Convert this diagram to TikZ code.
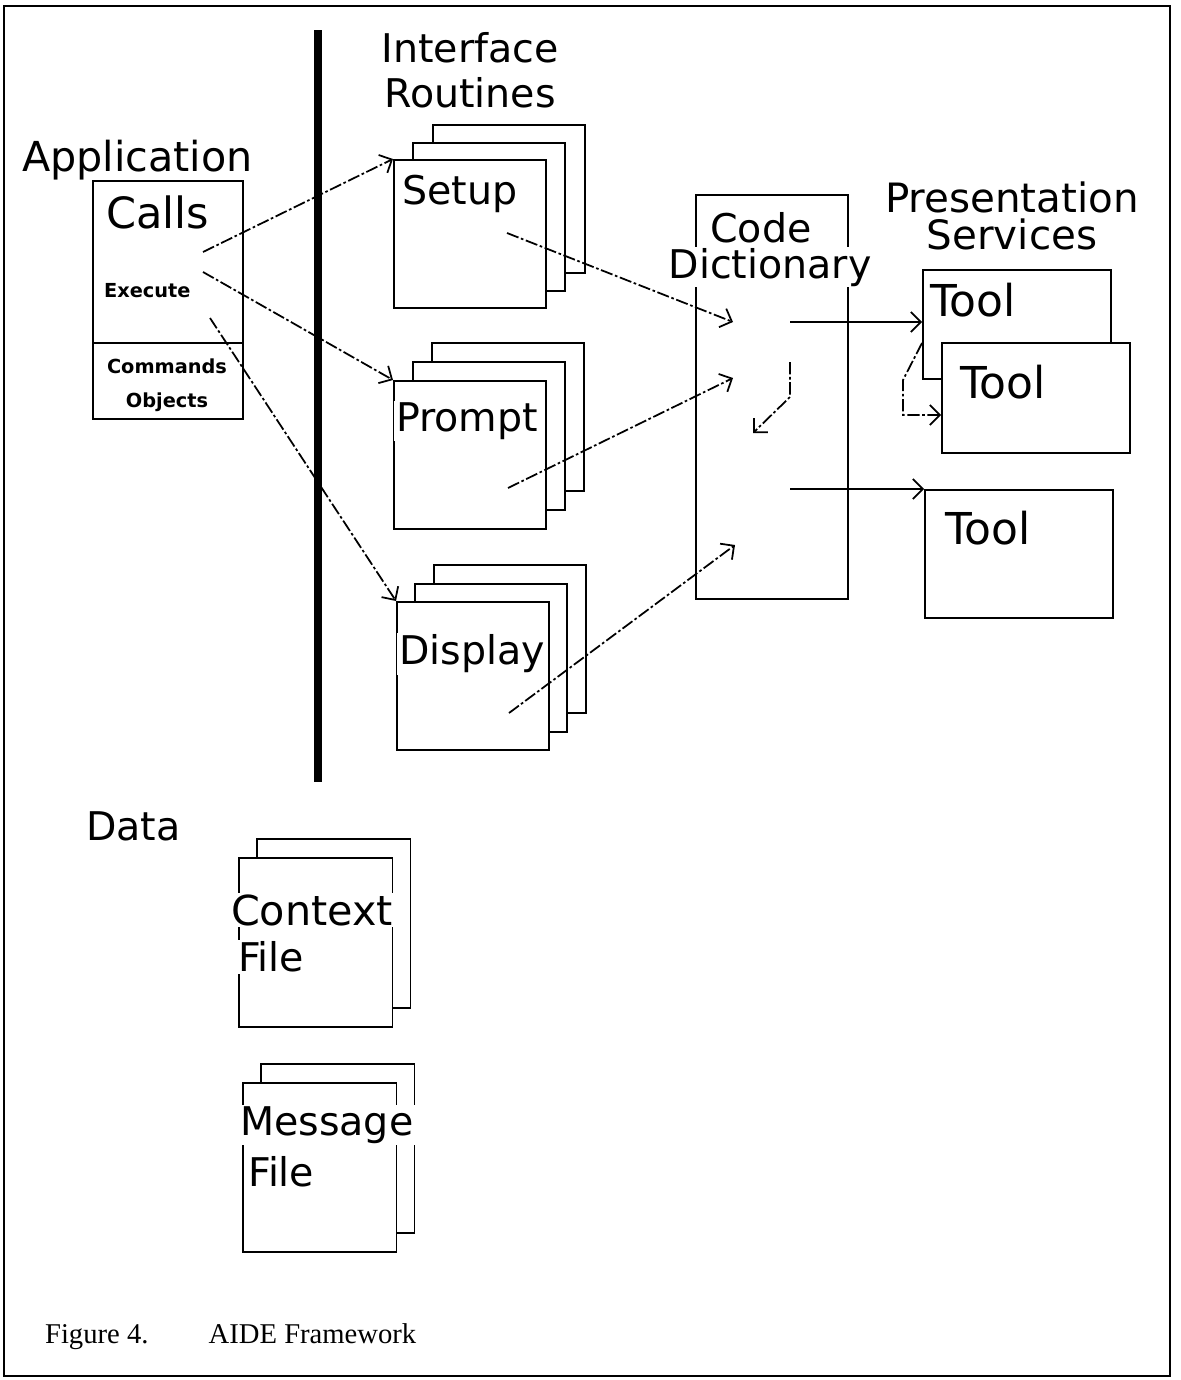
\documentclass[tikz,border=0pt]{standalone}
\usepackage{fontspec}
\setmainfont{DejaVu Sans}
\newfontfamily\capfont{Liberation Serif}
\usetikzlibrary{arrows.meta}

\begin{document}
\begin{tikzpicture}[x=0.2mm, y=-0.2mm,
  every node/.style={font=\fontsize{22.5}{25.5}\selectfont, inner sep=1pt},
  cut/.style={fill=white},
  big/.style={font=\fontsize{24.5}{26}\selectfont},
  tiny/.style={font=\bfseries\fontsize{11}{13}\selectfont},
  sheet/.style={draw, fill=white, line width=1.1pt, anchor=north west, inner sep=0pt, minimum width=30.4mm, minimum height=29.6mm},
  filesheet/.style={sheet, minimum width=30.7mm, minimum height=33.8mm},
  toolbox/.style={draw, fill=white, line width=1.1pt, anchor=north west, inner sep=0pt, minimum width=37.6mm},
  link/.style={line width=1pt, dash pattern=on 7pt off 1.5pt on 1.5pt off 1.5pt, -{Straight Barb[angle=90:8pt]}},
  feed/.style={line width=1pt, -{Straight Barb[angle=90:8pt]}}]
\useasboundingbox (0,0) rectangle (1181,1380);
\draw[line width=1.4pt] (4,6) rectangle (1170,1376);
\draw[line width=4.4pt] (318,30) -- (318,782);

% application side
\node[anchor=west, font=\fontsize{23.5}{26}\selectfont] (apptxt) at (20,160) {Application};
\node[draw, line width=1.1pt, anchor=north west, inner sep=0pt, minimum width=30mm, minimum height=47.6mm] (app) at (92,180) {};
\draw[line width=1.1pt] (app.west |- 0,343) -- (app.east |- 0,343);
\node[big, anchor=west] (calls) at (104,212) {Calls};
\node[tiny, anchor=west] (exec) at (102,291) {Execute};
\node[tiny] (cmds) at (167,366) {Commands};
\node[tiny] (objs) at (167,402) {Objects};

% interface routines
\node[align=center] (ifr) at (470,70) {Interface\\Routines};
\node[sheet] (setup3) at (432,124) {};
\node[sheet] (setup2) at (412,142) {};
\node[sheet] (setup) at (393,159) {};
\node[cut, anchor=west] (setuptxt) at (400,194) {Setup};
\node[sheet] (prompt3) at (431,342) {};
\node[sheet] (prompt2) at (412,361) {};
\node[sheet] (prompt) at (393,380) {};
\node[cut, anchor=west] (prompttxt) at (394,421) {Prompt};
\node[sheet] (display3) at (433,564) {};
\node[sheet] (display2) at (414,583) {};
\node[sheet] (display) at (396,601) {};
\node[cut, anchor=west] (displaytxt) at (397,654) {Display};

% code dictionary
\node[draw, line width=1.1pt, anchor=north west, inner sep=0pt, minimum width=30.4mm, minimum height=80.8mm] (dict) at (695,194) {};
\node[anchor=base, inner sep=0.5pt] (dictA) at (761,242) {Code};
\node[cut, anchor=base, inner sep=0.5pt] (dictB) at (770,278) {Dictionary};

% presentation services
\node[align=center, font=\fontsize{23}{21}\selectfont] (pres) at (1012,216) {Presentation\\Services};
\node[toolbox, minimum height=21.8mm] (tool1) at (922,269) {};
\node[toolbox, minimum height=22mm] (tool2) at (941,342) {};
\node[toolbox, minimum height=25.6mm] (tool3) at (924,489) {};
\node[anchor=west, font=\fontsize{25}{27}\selectfont] (tool1txt) at (928,300) {Tool};
\node[anchor=west, font=\fontsize{25}{27}\selectfont] (tool2txt) at (958,382) {Tool};
\node[anchor=west, font=\fontsize{25}{27}\selectfont] (tool3txt) at (943,528) {Tool};

% data files
\node[anchor=west] (data) at (84,826) {Data};
\node[filesheet] (ctx2) at (256,838) {};
\node[filesheet] (ctx) at (238,857) {};
\node[cut, anchor=west, font=\fontsize{23.5}{26}\selectfont] (ctxA) at (229,910) {Context};
\node[cut, anchor=west] (ctxB) at (236,957) {File};
\node[filesheet] (msg2) at (260,1063) {};
\node[filesheet] (msg) at (242,1082) {};
\node[cut, anchor=west] (msgA) at (238,1125) {Message};
\node[cut, anchor=west] (msgB) at (246,1172) {File};

\node[anchor=west, font=\capfont\fontsize{16.3}{18}\selectfont] (cap) at (43,1337) {Figure 4.\hspace{2.1em}AIDE Framework};

% calls
\coordinate (callsA) at (203,252);
\coordinate (callsB) at (203,272);
\coordinate (callsC) at (210,318);
\draw[link] (callsA) -- (setup.north west);
\draw[link] (callsB) -- (prompt.north west);
\draw[link] (callsC) -- (display.north west);

% routines into the dictionary
\coordinate (setupout) at (507,233);
\coordinate (promptout) at (508,488);
\coordinate (displayout) at (509,713);
\coordinate (slotA) at (733,322);
\coordinate (slotB) at (733,378);
\coordinate (slotC) at (735,545);
\coordinate (slotD) at (753,433);
\coordinate (relay) at (790,362);
\draw[link] (setupout) -- (slotA);
\draw[link] (promptout) -- (slotB);
\draw[link] (displayout) -- (slotC);
\draw[link] (relay) -- ++(0,35) -- (slotD);

% dictionary out to the tools
\coordinate (portA) at (790,322);
\coordinate (portB) at (790,489);
\draw[feed] (portA) -- (portA -| tool1.west);
\draw[feed] (portB) -- (tool3.north west);
\draw[link] (tool1.west |- 0,343) -- ++(-19,37) -- ++(0,35) -- (tool2.west |- 0,415);
\end{tikzpicture}
\end{document}
